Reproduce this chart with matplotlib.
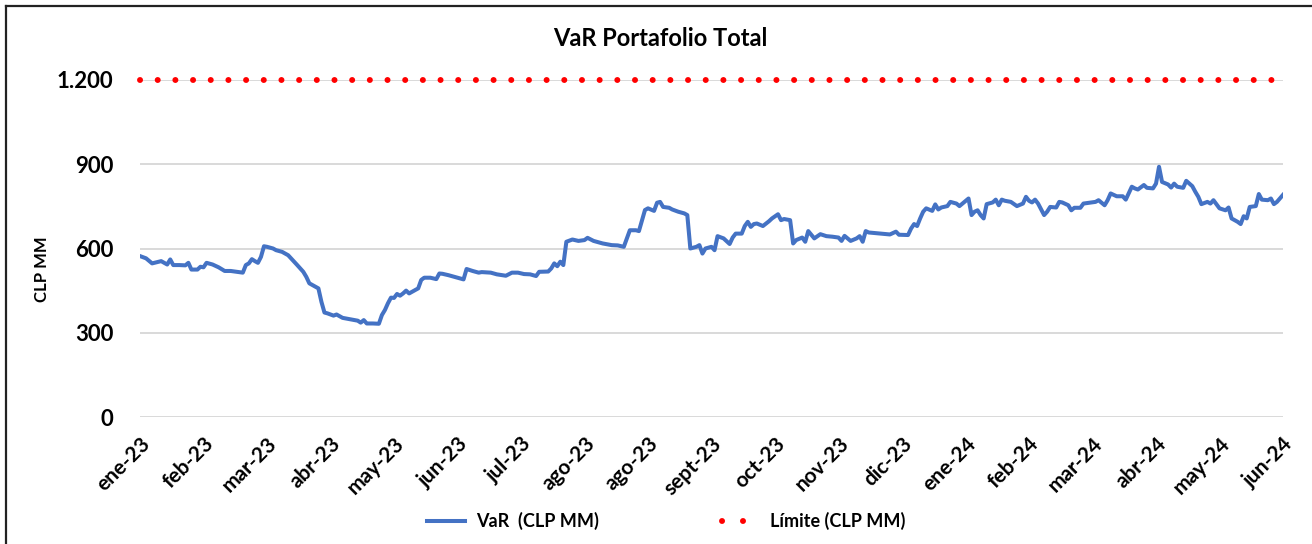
# VaR Portafolio Total - serie diaria vs limite

import matplotlib.pyplot as plt
from matplotlib.ticker import FuncFormatter
from matplotlib.lines import Line2D

# dia habil (0 = primer dato) y VaR en CLP MM
dias = [0, 2, 4, 7, 9, 10, 11, 13, 15, 16, 17, 19, 20, 21, 22, 24, 26, 28, 30, 32,
        34, 35, 36, 37, 38, 39, 40, 41, 42, 44, 45, 47, 49, 51, 52, 54, 55, 56, 57, 59,
        60, 61, 62, 64, 65, 67, 69, 72, 73, 74, 75, 77, 79, 80, 81, 82, 83, 84, 85, 86,
        87, 88, 89, 90, 92, 93, 94, 96, 98, 99, 100, 102, 104, 106, 107, 108, 110, 112, 113, 116,
        118, 121, 123, 125, 127, 129, 131, 132, 135, 136, 137, 138, 139, 140, 141, 143, 145, 147, 148, 150,
        153, 156, 158, 160, 162, 164, 165, 167, 168, 170, 171, 172, 173, 175, 176, 178, 180, 181, 182, 184,
        185, 186, 187, 189, 190, 191, 193, 195, 196, 197, 199, 200, 201, 202, 203, 204, 206, 208, 209, 211,
        212, 213, 215, 216, 217, 219, 220, 221, 223, 225, 227, 229, 231, 232, 233, 235, 237, 238, 239, 240,
        241, 245, 247, 248, 250, 251, 254, 255, 256, 257, 258, 259, 260, 262, 263, 264, 265, 267, 268, 270,
        271, 272, 274, 275, 276, 277, 278, 279, 280, 282, 283, 284, 285, 286, 288, 290, 292, 293, 294, 295,
        296, 297, 299, 300, 301, 303, 304, 305, 307, 308, 309, 311, 312, 314, 316, 317, 319, 320, 321, 323,
        325, 326, 328, 329, 330, 332, 333, 335, 336, 337, 338, 340, 341, 342, 343, 345, 346, 348, 349, 350,
        351, 353, 354, 355, 357, 359, 360, 361, 363, 364, 365, 366, 367, 369, 370, 371, 373, 374, 375, 376,
        378]

var_clp = [573, 565, 547, 555, 543, 561, 541, 541, 540, 549, 525, 525, 535, 533, 549, 543, 533, 520, 520, 517,
           514, 541, 547, 562, 555, 549, 570, 608, 606, 600, 594, 588, 576, 553, 541, 517, 499, 476, 470, 458,
           410, 372, 369, 361, 365, 353, 349, 343, 336, 345, 333, 333, 332, 363, 381, 405, 425, 424, 438, 432,
           440, 450, 440, 446, 458, 488, 496, 496, 491, 511, 510, 505, 499, 493, 490, 527, 520, 514, 516, 514,
           508, 503, 514, 514, 509, 508, 502, 517, 518, 529, 547, 537, 553, 541, 624, 632, 627, 630, 638, 627,
           618, 612, 611, 606, 665, 665, 662, 737, 743, 734, 763, 766, 748, 745, 739, 731, 725, 719, 600, 606,
           612, 582, 600, 606, 594, 644, 636, 616, 639, 653, 653, 680, 695, 677, 687, 689, 680, 697, 707, 722,
           701, 705, 701, 618, 630, 639, 624, 662, 636, 651, 644, 642, 639, 627, 645, 627, 636, 644, 624, 662,
           657, 653, 651, 650, 660, 649, 648, 671, 687, 680, 707, 731, 743, 734, 757, 739, 746, 751, 766, 760,
           751, 760, 778, 719, 731, 736, 719, 707, 758, 764, 774, 754, 774, 770, 766, 751, 760, 784, 770, 764,
           774, 760, 719, 731, 748, 746, 766, 764, 754, 736, 745, 745, 760, 763, 766, 772, 754, 772, 796, 786,
           786, 774, 820, 814, 810, 826, 816, 814, 831, 891, 837, 828, 817, 831, 820, 816, 841, 822, 802, 784,
           758, 766, 760, 772, 743, 736, 746, 707, 695, 687, 715, 707, 748, 751, 794, 774, 772, 778, 758, 766,
           791]

limite = 1200

etiquetas = ['ene-23', 'feb-23', 'mar-23', 'abr-23', 'may-23', 'jun-23', 'jul-23', 'ago-23',
             'ago-23', 'sept-23', 'oct-23', 'nov-23', 'dic-23', 'ene-24', 'feb-24', 'mar-24',
             'abr-24', 'may-24', 'jun-24']
paso_etiqueta = 21

assert len(dias) == len(var_clp)

plt.rcParams['font.family'] = ['Lato', 'DejaVu Sans']

W, H = 1312, 544
fig = plt.figure(figsize=(W / 100, H / 100), dpi=100)
ax = fig.add_axes([140 / W, 1 - 417 / H, (1283 - 140) / W, (417 - 80) / H])

puntos = (0, (0.01, 2.95))  # linea de puntos redondos (estilo Excel)

# series
ax.plot(dias, var_clp, color='#4472C4', lw=2.9, solid_joinstyle='round', zorder=3)
ax.plot([dias[0], dias[-1]], [limite, limite], color='#FF0000', lw=4.3,
        linestyle=puntos, dash_capstyle='round', clip_on=False, zorder=4)

# ejes
ax.set_xlim(dias[0], dias[-1])
ax.set_ylim(0, 1200)
ax.set_yticks([0, 300, 600, 900, 1200])
ax.yaxis.set_major_formatter(FuncFormatter(lambda v, p: f'{int(v):,}'.replace(',', '.')))
ax.set_xticks(range(0, paso_etiqueta * len(etiquetas), paso_etiqueta))
ax.set_xticklabels(etiquetas, rotation=45, ha='right', va='top', rotation_mode='anchor')
ax.tick_params(axis='y', length=0, labelsize=16, pad=19)
ax.tick_params(axis='x', length=0, labelsize=15, pad=12)
for lbl in ax.get_xticklabels() + ax.get_yticklabels():
    lbl.set_fontweight('bold')

ax.grid(axis='y', color='#D9D9D9', lw=1.4)
ax.set_axisbelow(True)
for s in ax.spines.values():
    s.set_visible(False)

# textos
fig.text(0.503, 0.930, 'VaR Portafolio Total', ha='center', va='center',
         fontsize=17, fontweight='bold')
fig.text(42 / W, 0.505, 'CLP MM', rotation=90, ha='center', va='center',
         fontsize=12, fontweight='bold')

# leyenda (3 puntos en la muestra roja)
handles = [Line2D([], [], color='#4472C4', lw=2.9),
           Line2D([], [], color='#FF0000', lw=4.3, linestyle=(0, (0.01, 3.5)),
                  dash_capstyle='round')]
fig.legend(handles, ['VaR  (CLP MM)', 'Límite (CLP MM)'], loc='center',
           bbox_to_anchor=(0.508, 0.042), ncol=2, frameon=False, handlelength=2.1,
           handletextpad=0.6, columnspacing=6.8, prop={'size': 13, 'weight': 'bold'})

# borde del grafico (izquierda y arriba)
fig.add_artist(Line2D([6 / W, 6 / W], [0, 1 - 6 / H], color='#222222', lw=1.6))
fig.add_artist(Line2D([6 / W, 1], [1 - 6 / H, 1 - 6 / H], color='#222222', lw=1.6))

fig.savefig('out.png', dpi=100)
